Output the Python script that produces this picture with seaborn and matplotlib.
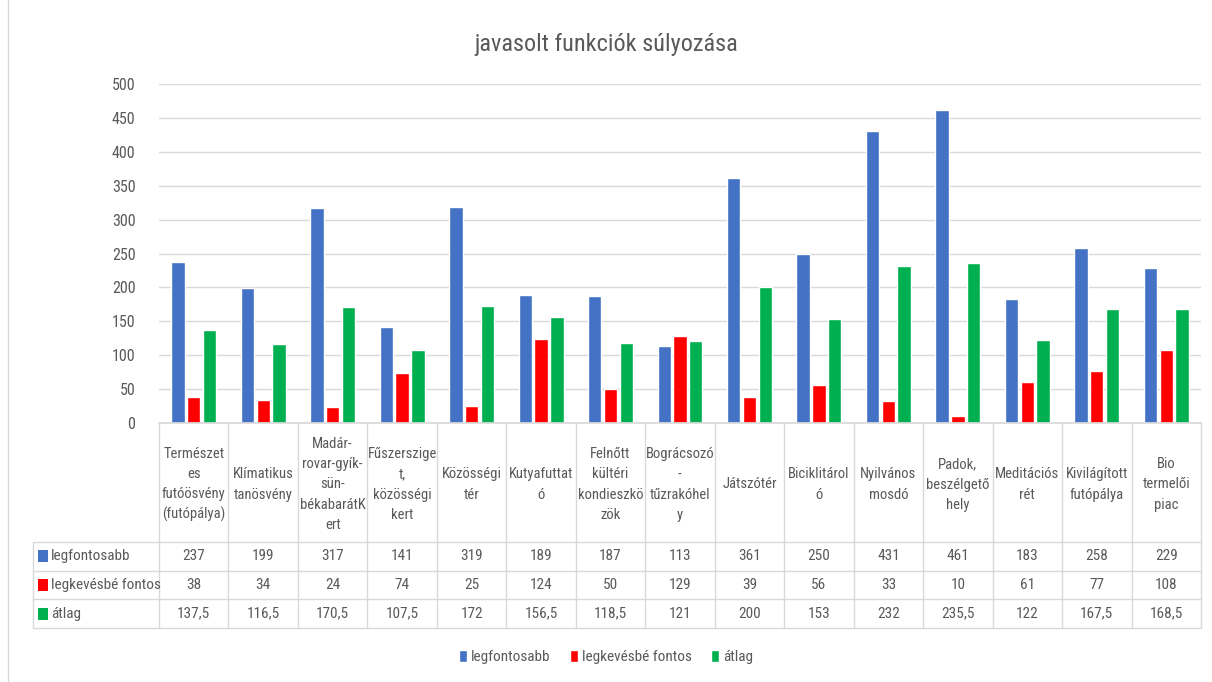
import numpy as np
import pandas as pd
import matplotlib.pyplot as plt
import seaborn as sns
from matplotlib.transforms import blended_transform_factory
from matplotlib.patches import Patch

# === ADATOK ===
kategoriak = [
    "Természet\nes\nfutóösvény\n(futópálya)",
    "Klímatikus\ntanösvény",
    "Madár-\nrovar-gyík-\nsün-\nbékabarátK\nert",
    "Fűszerszige\nt,\nközösségi\nkert",
    "Közösségi\ntér",
    "Kutyafuttat\nó",
    "Felnőtt\nkültéri\nkondieszkö\nzök",
    "Bográcsozó\n-\ntűzrakóhel\ny",
    "Játszótér",
    "Biciklitárol\nó",
    "Nyilvános\nmosdó",
    "Padok,\nbeszélgető\nhely",
    "Meditációs\nrét",
    "Kivilágított\nfutópálya",
    "Bio\ntermelői\npiac",
]
legfontosabb = [237, 199, 317, 141, 319, 189, 187, 113, 361, 250, 431, 461, 183, 258, 229]
legkevesbe_fontos = [38, 34, 24, 74, 25, 124, 50, 129, 39, 56, 33, 10, 61, 77, 108]
atlag = [137.5, 116.5, 170.5, 107.5, 172, 156.5, 118.5, 121, 200, 153, 232, 235.5, 122, 167.5, 168.5]
sorozatok = ["legfontosabb", "legkevésbé fontos", "átlag"]
szinek = ["#4472C4", "#FF0000", "#00B050"]
y_tickek = list(range(0, 501, 50))

df = pd.DataFrame({"kategoria": kategoriak,
                   sorozatok[0]: legfontosabb,
                   sorozatok[1]: legkevesbe_fontos,
                   sorozatok[2]: atlag})
hosszu = df.melt(id_vars="kategoria", var_name="sorozat", value_name="ertek")

# === STÍLUS ===
sns.set_theme(style="white")
plt.rcParams['font.family'] = ['Roboto Condensed', 'Roboto', 'DejaVu Sans']
SZURKE = "#595959"
VONAL = "#D9D9D9"
BETU = 11

W, H = 1212, 682
fig = plt.figure(figsize=(W / 100, H / 100), dpi=100)
fig.patch.set_facecolor("white")

def fx(px):
    return px / W

def fy(py):
    return 1 - py / H

# teljes ábrát lefedő tengely pixel-koordinátákkal (táblázat, keret)
over = fig.add_axes([0, 0, 1, 1], zorder=0)
over.set_xlim(0, W)
over.set_ylim(H, 0)
over.axis("off")

# --- oszlopdiagram ---
ax = fig.add_axes([fx(159), fy(423), fx(1201) - fx(159), fy(84) - fy(423)], zorder=1)
ax.patch.set_alpha(0)
sns.barplot(data=hosszu, x="kategoria", y="ertek", hue="sorozat",
            order=kategoriak, hue_order=sorozatok, palette=szinek,
            width=0.68, gap=0.15, saturation=1, legend=False, ax=ax)
ax.set_xlim(-0.5, len(kategoriak) - 0.5)
ax.set_ylim(0, 500)
ax.set_yticks(y_tickek)
ax.yaxis.grid(True, color=VONAL, linewidth=1)
ax.set_axisbelow(True)
for s in ["top", "right", "left"]:
    ax.spines[s].set_visible(False)
ax.spines["bottom"].set_color(VONAL)
ax.set_xticks([])
ax.set_xlabel("")
ax.set_ylabel("")
ax.tick_params(axis="y", length=0, pad=17, labelsize=11.5, labelcolor=SZURKE)

fig.text(0.5, fy(45), "javasolt funkciók súlyozása", ha="center", va="center",
         fontsize=17.5, color=SZURKE)

# --- adattáblázat ---
tr = blended_transform_factory(ax.transData, over.transData)
fej_also, sor_h = 542, 28.7
tabla_bal, tabla_also = 33, fej_also + 3 * sor_h
n = len(kategoriak)

# függőleges vonalak
for i in range(n + 1):
    over.plot([i - 0.5, i - 0.5], [423, tabla_also], transform=tr, color=VONAL, lw=1)
over.plot([tabla_bal, tabla_bal], [fej_also, tabla_also], color=VONAL, lw=1)
# vízszintes vonalak
for k in range(4):
    yy = fej_also + k * sor_h
    over.plot([tabla_bal, 1201], [yy, yy], color=VONAL, lw=1)

for i, kat in enumerate(kategoriak):
    over.text(i, (423 + fej_also) / 2 + 2, kat, transform=tr, ha="center", va="center",
              fontsize=BETU - 0.5, color=SZURKE, linespacing=1.55)

for r, (nev, ertekek, szin) in enumerate(zip(sorozatok, [legfontosabb, legkevesbe_fontos, atlag], szinek)):
    yc = fej_also + (r + 0.5) * sor_h
    over.add_patch(plt.Rectangle((38, yc - 6), 10, 12, color=szin, lw=0))
    over.text(51, yc, nev, ha="left", va="center", fontsize=BETU, color=SZURKE)
    for i, v in enumerate(ertekek):
        felirat = f"{v:g}".replace(".", ",")
        over.text(i, yc, felirat, transform=tr, ha="center", va="center",
                  fontsize=BETU, color=SZURKE)

# keret bal oldalt
over.plot([8, 8], [0, H], color=VONAL, lw=1)

# --- jelmagyarázat ---
kezelok = [Patch(facecolor=c, label=s) for c, s in zip(szinek, sorozatok)]
fig.legend(handles=kezelok, loc="center", bbox_to_anchor=(0.5, fy(657)), ncol=3,
           frameon=False, fontsize=BETU, labelcolor=SZURKE, handlelength=0.5,
           handleheight=0.9, handletextpad=0.25, columnspacing=1.3)

plt.savefig("out.png", dpi=100)
